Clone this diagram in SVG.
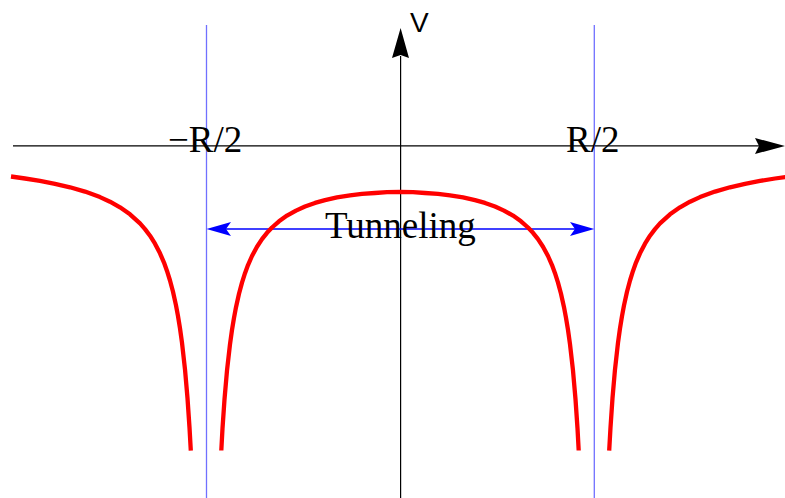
<svg xmlns="http://www.w3.org/2000/svg" width="785" height="498" viewBox="0 0 785 498">
<style>
.axis{stroke:#000;stroke-width:1.2;fill:none}
.wall{stroke:#7070ff;stroke-width:1.3;fill:none}
.curve{stroke:#ff0000;stroke-width:4.3;fill:none;stroke-linejoin:round}
.head{fill:#000}
.bhead{fill:#0000ff}
.lbl{font-family:"Liberation Serif","Times New Roman",serif;font-size:37px;fill:#000}
.vlbl{font-family:"Liberation Sans",Arial,sans-serif;font-size:28px;fill:#000}
</style>
<rect width="785" height="498" fill="#fff"/>
<g id="connectors">
  <g id="x-axis">
    <line class="axis" x1="13" y1="145.8" x2="760" y2="145.8"/>
    <polygon class="head" points="785,146 755,138 759,146 755,154"/>
  </g>
  <g id="y-axis">
    <line class="axis" x1="400.6" y1="56" x2="400.6" y2="498"/>
    <polygon class="head" points="400.6,28 392,58 400.6,55 409,58"/>
  </g>
  <g id="walls">
    <line class="wall" x1="206.5" y1="25" x2="206.5" y2="498"/>
    <line class="wall" x1="594.3" y1="25" x2="594.3" y2="498"/>
  </g>
  <g id="tunneling-arrow">
    <line x1="210" y1="229" x2="590" y2="229" stroke="#0000ff" stroke-width="1.5"/>
    <polygon class="bhead" points="206.5,229 231,222 226,229 231,236"/>
    <polygon class="bhead" points="594.3,229 570,222 575,229 570,236"/>
  </g>
</g>
<g id="potential">
  <polyline class="curve" points="11,176.5 25,178.5 40,180.9 55,183.8 70,187.3 85,191.6 100,197.1 110,201.7 120,207.3 130,214.3 140,223.4 145,229.1 150,235.7 155,243.7 160,253.3 164,262.6 167,270.9 170,280.5 173,291.8 176,305.4 178,316.1 180,328.4 182,342.7 185,369.4 187.5,398.2 189.5,427.5 190.8,450.6"/>
  <polyline class="curve" points="221.3,450.5 222.5,428.4 224.5,399.3 227,370.6 230,344.2 232,329.9 234,317.8 236,307.2 239,293.8 242,282.6 245,273.2 248,265.1 252,256 257,246.7 262,239.1 267,232.8 272,227.5 279,221.3 287,215.6 296,210.6 305,206.5 315,202.9 325,200.1 337,197.4 350,195.3 362,193.8 375,193 387,192.2 400,192 413,192.2 425,193 438,193.8 450,195.3 463,197.4 475,200.1 485,202.9 495,206.5 504,210.6 513,215.6 521,221.3 528,227.5 533,232.8 538,239.1 543,246.7 548,256 552,265.1 555,273.2 558,282.6 561,293.8 564,307.2 566,317.8 568,329.9 570,344.2 573,370.6 575.5,399.3 577.5,428.4 578.7,450.5"/>
  <polyline class="curve" points="609.2,450.6 610.5,427.5 612.5,398.2 615,369.4 618,342.7 620,328.4 622,316.1 624,305.4 627,291.8 630,280.5 633,270.9 636,262.6 640,253.3 645,243.7 650,235.7 655,229.1 660,223.4 670,214.3 680,207.3 690,201.7 700,197.1 715,191.6 730,187.3 745,183.8 760,180.9 775,178.5 789,176.5"/>
</g>
<g id="label-V"><text class="vlbl" x="410" y="32">V</text></g>
<g id="label-minus-R2"><text class="lbl" x="168" y="152">−R/2</text></g>
<g id="label-R2"><text class="lbl" x="566" y="152">R/2</text></g>
<g id="label-tunneling"><text class="lbl" x="325" y="238">Tunneling</text></g>
</svg>
